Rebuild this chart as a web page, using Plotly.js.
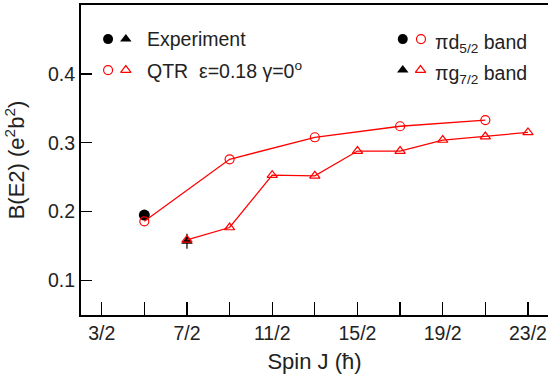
<!DOCTYPE html>
<html><head><meta charset="utf-8">
<script src="https://cdn.plot.ly/plotly-3.0.1.min.js"></script>
<style>html,body{margin:0;padding:0;background:#fff}</style>
</head><body><div id="chart" style="width:548px;height:379px"></div>
<script>
// Theory (QTR) d5/2 band
const dSpin = [2.5, 4.5, 6.5, 8.5, 10.5];
const dBE2 = [0.186, 0.276, 0.308, 0.324, 0.333];
// Theory (QTR) g7/2 band
const gSpin = [3.5, 4.5, 5.5, 6.5, 7.5, 8.5, 9.5, 10.5, 11.5];
const gBE2 = [0.159, 0.177, 0.253, 0.252, 0.288, 0.288, 0.304, 0.309, 0.315];
// Experiment
const expDSpin = [2.5];
const expDBE2 = [0.195];
const expDErr = [0.004];
const expGSpin = [3.5];
const expGBE2 = [0.157];
const expGErr = [0.011];
// Ticks
const tickVals = [1.5, 2.5, 3.5, 4.5, 5.5, 6.5, 7.5, 8.5, 9.5, 10.5, 11.5];
const tickText = ['3/2', '', '7/2', '', '11/2', '', '15/2', '', '19/2', '', '23/2'];
const yTicks = [0.1, 0.2, 0.3, 0.4];

const red = '#ff0000';
const font = {family: 'Liberation Sans, Arial, sans-serif', size: 19.5, color: '#222'};
const titleFont = {family: 'Liberation Sans, Arial, sans-serif', size: 22, color: '#222'};

const traces = [
  {x: expDSpin, y: expDBE2, mode: 'markers', type: 'scatter',
   marker: {symbol: 'circle', size: 11, color: '#000'},
   error_y: {type: 'data', array: expDErr, color: '#000', thickness: 1.2, width: 0}},
  {x: expGSpin, y: expGBE2, mode: 'markers', type: 'scatter',
   marker: {symbol: 'triangle-up', size: 10, color: '#000'},
   error_y: {type: 'data', array: expGErr, color: '#000', thickness: 1.2, width: 0}},
  {x: dSpin, y: dBE2, mode: 'lines+markers', type: 'scatter',
   line: {color: red, width: 1.3},
   marker: {symbol: 'circle-open', size: 9, color: red, line: {width: 1.2, color: red}}},
  {x: gSpin, y: gBE2, mode: 'lines+markers', type: 'scatter',
   line: {color: red, width: 1.3},
   marker: {symbol: 'triangle-up-open', size: 9, color: red, line: {width: 1.2, color: red}}},
  // legend symbols (overlay axes spanning the plot area, range 0..1)
  {x: [0.058, 0.689], y: [0.890, 0.890], xaxis: 'x2', yaxis: 'y2', mode: 'markers', type: 'scatter',
   marker: {symbol: 'circle', size: 10, color: '#000'}},
  {x: [0.096, 0.689], y: [0.890, 0.790], xaxis: 'x2', yaxis: 'y2', mode: 'markers', type: 'scatter',
   marker: {symbol: 'triangle-up', size: 10, color: '#000'}},
  {x: [0.058, 0.728], y: [0.790, 0.890], xaxis: 'x2', yaxis: 'y2', mode: 'markers', type: 'scatter',
   marker: {symbol: 'circle-open', size: 9, color: red, line: {width: 1.2, color: red}}},
  {x: [0.096, 0.727], y: [0.790, 0.790], xaxis: 'x2', yaxis: 'y2', mode: 'markers', type: 'scatter',
   marker: {symbol: 'triangle-up-open', size: 9, color: red, line: {width: 1.2, color: red}}}
];

const ann = (x, y, text) => ({xref: 'paper', yref: 'paper', x: x, y: y, text: text,
  showarrow: false, xanchor: 'left', yanchor: 'middle', font: font});

const layout = {
  width: 548, height: 379,
  margin: {l: 81, r: 0, t: 5, b: 64},
  paper_bgcolor: '#fff', plot_bgcolor: '#fff',
  showlegend: false,
  font: font,
  xaxis: {range: [1.014, 11.97], tickmode: 'array', tickvals: tickVals, ticktext: tickText,
    ticks: 'inside', ticklen: 13, tickwidth: 1.3, tickcolor: '#000',
    showline: true, linecolor: '#000', linewidth: 2, mirror: true,
    showgrid: false, zeroline: false, tickfont: font,
    title: {text: 'Spin J (ħ)', font: titleFont, standoff: 10}},
  yaxis: {range: [0.05, 0.5], tickmode: 'array', tickvals: yTicks, ticktext: ['0.1', '0.2', '0.3', '0.4'],
    ticks: 'inside', ticklen: 11, tickwidth: 1.3, tickcolor: '#000',
    showline: true, linecolor: '#000', linewidth: 2, mirror: true,
    showgrid: false, zeroline: false, tickfont: font,
    title: {text: 'B(E2) (e<sup>2</sup>b<sup>2</sup>)', font: titleFont, standoff: 17}},
  xaxis2: {overlaying: 'x', range: [0, 1], visible: false, fixedrange: true},
  yaxis2: {overlaying: 'y', range: [0, 1], visible: false, fixedrange: true},
  annotations: [
    ann(0.137, 0.890, 'Experiment'),
    ann(0.137, 0.790, 'QTR\u00a0\u00a0ε=0.18 γ=0<sup>o</sup>'),
    ann(0.754, 0.875, 'πd<sub>5/2</sub> band'),
    ann(0.754, 0.775, 'πg<sub>7/2</sub> band')
  ]
};

Plotly.newPlot('chart', traces, layout, {displayModeBar: false, staticPlot: true});
</script></body></html>
